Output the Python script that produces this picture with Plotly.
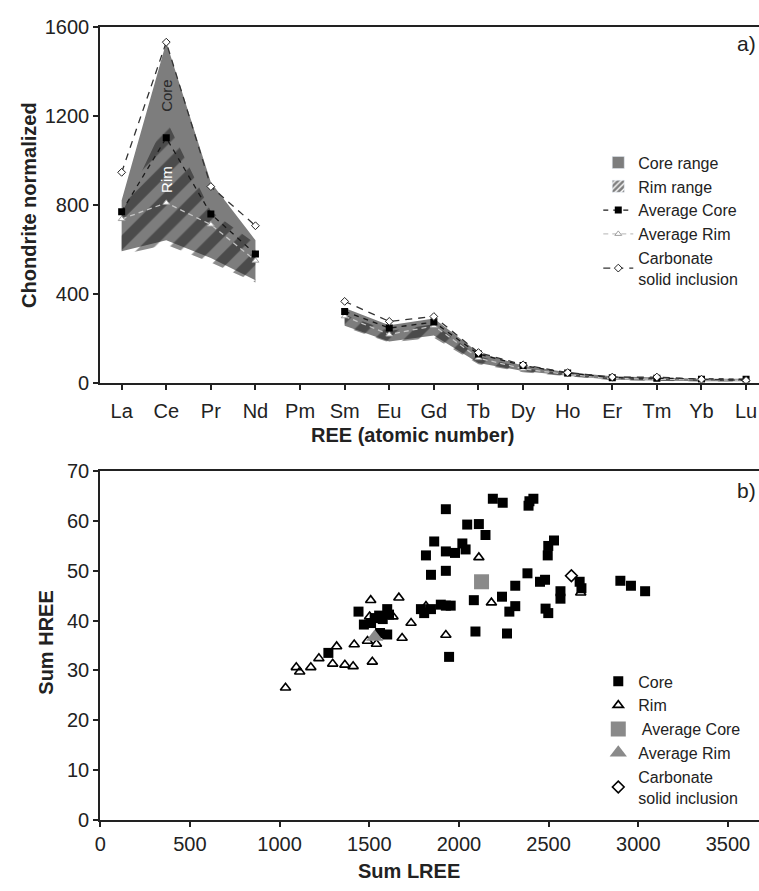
import plotly.graph_objects as go

W, H = 759, 891

# ---------------- Panel a) data ----------------
elements = ["La", "Ce", "Pr", "Nd", "Pm", "Sm", "Eu", "Gd", "Tb", "Dy", "Ho", "Er", "Tm", "Yb", "Lu"]
core_range_hi = [820, 1530, 900, 640, None, 335, 258, 288, 135, 76, 46, 28, 24, 17, 17]
core_range_lo = [590, 640, 560, 460, None, 255, 185, 212, 88, 52, 31, 13, 10, 6, 6]
rim_range_hi = [760, 1180, 770, 625, None, 305, 232, 262, 118, 66, 39, 21, 17, 12, 12]
rim_range_lo = [575, 620, 540, 450, None, 250, 180, 202, 82, 47, 28, 11, 8, 5, 5]
avg_core = [768, 1100, 758, 578, None, 320, 245, 272, 128, 77, 43, 22, 20, 15, 15]
avg_rim = [735, 808, 710, 548, None, 298, 216, 255, 110, 62, 36, 18, 15, 10, 10]
carbonate = [945, 1530, 881, 705, None, 365, 275, 297, 135, 80, 45, 25, 25, 15, 10]

# ---------------- Panel b) data ----------------
core_lree = [1272, 1440, 1470, 1510, 1530, 1555, 1575, 1600, 1610, 1560, 1600,
             1927, 2046, 2111, 2148, 2189, 2244, 2388, 2415, 2393, 1862, 1816, 1927,
             2019, 1978, 2037, 1844, 1927, 2498, 2530, 2495, 2382, 2314, 2452, 2480,
             2673, 2683, 2900, 2959, 3038, 2566, 2566, 2240, 2083, 2314, 2281, 2483,
             2498, 1788, 1806, 1844, 1899, 1954, 1927, 2092, 2268, 1945]
core_hree = [33.5, 41.8, 39.2, 39.5, 40.5, 41.0, 40.3, 42.3, 41.2, 37.5, 37.2,
             62.4, 59.3, 59.4, 57.2, 64.5, 63.7, 63.1, 64.5, 64.0, 55.9, 53.1, 53.9,
             55.5, 53.6, 54.3, 49.2, 50.0, 55.0, 56.1, 53.1, 49.5, 47.0, 47.8, 48.2,
             47.8, 46.5, 48.0, 47.0, 45.9, 45.9, 44.4, 44.8, 44.1, 42.9, 41.8, 42.4,
             41.5, 42.3, 41.5, 42.3, 43.2, 43.0, 43.0, 37.8, 37.4, 32.7]
rim_lree = [1033, 1093, 1112, 1174, 1219, 1296, 1364, 1410, 1416, 1517, 1508, 1502,
            1490, 1540, 1318, 2111, 1665, 1733, 1683, 1927, 1816, 2181, 2679, 1632]
rim_hree = [26.5, 30.6, 29.7, 30.6, 32.4, 31.3, 31.1, 30.8, 35.2, 31.7, 44.1, 40.8,
            35.9, 35.3, 34.8, 52.7, 44.6, 39.5, 36.5, 37.1, 42.9, 43.6, 45.6, 40.8]
avg_core_lree = [2126]
avg_core_hree = [47.8]
avg_rim_lree = [1530]
avg_rim_hree = [36.7]
carb_lree = [2627]
carb_hree = [49.0]


def px_x(p):
    return p / W


def px_y(p):
    return 1 - p / H


def band_polygon(hi, lo):
    """Build closed polygons (one per contiguous segment) from upper/lower bounds."""
    xs, ys = [], []
    seg = []
    for i in range(len(hi) + 1):
        if i < len(hi) and hi[i] is not None:
            seg.append(i)
        else:
            if seg:
                xs += seg + seg[::-1] + [seg[0], None]
                ys += [hi[j] for j in seg] + [lo[j] for j in seg[::-1]] + [hi[seg[0]], None]
            seg = []
    return xs, ys


idx = list(range(len(elements)))
fig = go.Figure()

CORE_GRAY = "#7d7d7d"
HATCH = dict(shape="/", fgcolor="#1a1a1a", bgcolor="rgba(0,0,0,0)", size=21, solidity=0.5)

cx, cy = band_polygon(core_range_hi, core_range_lo)
fig.add_trace(go.Scatter(x=cx, y=cy, fill="toself", mode="lines", line=dict(width=0),
                         fillcolor=CORE_GRAY, name="Core range", showlegend=False,
                         hoverinfo="skip", xaxis="x", yaxis="y"))
rx, ry = band_polygon(rim_range_hi, rim_range_lo)
fig.add_trace(go.Scatter(x=rx, y=ry, fill="toself", mode="lines", line=dict(width=0),
                         fillcolor="rgba(0,0,0,0)", fillpattern=HATCH,
                         name="Rim range", showlegend=False, hoverinfo="skip",
                         xaxis="x", yaxis="y"))
# legend swatches for the two ranges
fig.add_trace(go.Bar(x=[None], y=[None], name="Core range", marker=dict(color=CORE_GRAY),
                     legend="legend", legendrank=1, xaxis="x", yaxis="y"))
fig.add_trace(go.Bar(x=[None], y=[None], name="Rim range",
                     marker=dict(color="white",
                                 pattern=dict(shape="/", fgcolor="#000000", bgcolor="white",
                                              size=5, solidity=0.65)),
                     legend="legend", legendrank=2, xaxis="x", yaxis="y"))

fig.add_trace(go.Scatter(x=idx, y=avg_rim, mode="lines+markers", name="Average Rim",
                         line=dict(color="#c4c4c4", width=1.3, dash="5px,4px"),
                         marker=dict(symbol="triangle-up", size=6, color="white",
                                     line=dict(color="#a0a0a0", width=1)),
                         legend="legend", legendrank=4, xaxis="x", yaxis="y"))
fig.add_trace(go.Scatter(x=idx, y=avg_core, mode="lines+markers", name="Average Core",
                         line=dict(color="#1a1a1a", width=1.3, dash="5px,5px"),
                         marker=dict(symbol="square", size=7, color="black"),
                         legend="legend", legendrank=3, xaxis="x", yaxis="y"))
fig.add_trace(go.Scatter(x=idx, y=carbonate, mode="lines+markers",
                         name="Carbonate<br>solid inclusion",
                         line=dict(color="#333333", width=1.3, dash="7px,6px"),
                         marker=dict(symbol="diamond", size=6, color="white",
                                     line=dict(color="#222222", width=1)),
                         legend="legend", legendrank=5, xaxis="x", yaxis="y"))

fig.add_trace(go.Scatter(x=core_lree, y=core_hree, mode="markers", name="Core",
                         marker=dict(symbol="square", size=10, color="black"),
                         legend="legend2", xaxis="x2", yaxis="y2", legendrank=1))
fig.add_trace(go.Scatter(x=rim_lree, y=rim_hree, mode="markers", name="Rim",
                         marker=dict(symbol="triangle-up-open", size=9, color="black",
                                     line=dict(width=1.6)),
                         legend="legend2", xaxis="x2", yaxis="y2", legendrank=2))
fig.add_trace(go.Scatter(x=avg_core_lree, y=avg_core_hree, mode="markers", name=" Average Core",
                         marker=dict(symbol="square", size=15, color="#8a8a8a"),
                         legend="legend2", xaxis="x2", yaxis="y2", legendrank=3))
fig.add_trace(go.Scatter(x=avg_rim_lree, y=avg_rim_hree, mode="markers", name="Average Rim",
                         marker=dict(symbol="triangle-up", size=15, color="#8a8a8a"),
                         legend="legend2", xaxis="x2", yaxis="y2", legendrank=4))
fig.add_trace(go.Scatter(x=carb_lree, y=carb_hree, mode="markers",
                         name="Carbonate<br>solid inclusion",
                         marker=dict(symbol="diamond-open", size=9, color="black",
                                     line=dict(width=1.6)),
                         legend="legend2", xaxis="x2", yaxis="y2", legendrank=5))

axis_common = dict(showline=True, linecolor="#222222", linewidth=2, ticks="outside",
                   ticklen=5, tickwidth=1.5, tickcolor="#222222", showgrid=False,
                   zeroline=False, tickfont=dict(size=20, color="#222222"))

font_family = "Liberation Sans, Arial, sans-serif"
legend_common = dict(font=dict(size=16, color="#222222"), bgcolor="rgba(0,0,0,0)",
                     xanchor="left", yanchor="top", tracegroupgap=0, itemwidth=30,
                     traceorder="normal")

fig.update_layout(
    width=W, height=H,
    margin=dict(l=0, r=0, t=0, b=0),
    paper_bgcolor="white", plot_bgcolor="white",
    font=dict(family=font_family, color="#222222"),
    bargap=0,
    xaxis=dict(domain=[px_x(95), 1], anchor="y", range=[-0.48, 14.29],
               tickvals=idx, ticktext=elements, mirror=True, ticklabelstandoff=4,
               **axis_common),
    yaxis=dict(domain=[px_y(381), px_y(16)], anchor="x", range=[0, 1600],
               tickvals=[0, 400, 800, 1200, 1600], **axis_common),
    xaxis2=dict(domain=[px_x(95), 1], anchor="y2", range=[0, 3673],
                tickvals=[0, 500, 1000, 1500, 2000, 2500, 3000, 3500], mirror=True,
                **axis_common),
    yaxis2=dict(domain=[px_y(829), px_y(472)], anchor="x2", range=[0, 70],
                tickvals=[0, 10, 20, 30, 40, 50, 60, 70], **axis_common),
    legend=dict(x=px_x(597), y=px_y(138), **legend_common),
    legend2=dict(x=px_x(597), y=px_y(670), **legend_common),
    showlegend=True,
)

ann = [
    dict(text="<b>Chondrite normalized</b>", x=px_x(23), y=px_y(199), textangle=-90,
         font=dict(size=20)),
    dict(text="<b>REE (atomic number)</b>", x=px_x(410), y=px_y(435), font=dict(size=20)),
    dict(text="<b>Sum HREE</b>", x=px_x(40), y=px_y(648), textangle=-90, font=dict(size=20)),
    dict(text="<b>Sum LREE</b>", x=px_x(406), y=px_y(882), font=dict(size=20)),
    dict(text="a)", x=px_x(758), y=px_y(33), xanchor="right", font=dict(size=21)),
    dict(text="b)", x=px_x(758), y=px_y(492), xanchor="right", font=dict(size=21)),
]
for a in ann:
    a.setdefault("xanchor", "center")
    fig.add_annotation(xref="paper", yref="paper", yanchor="middle", showarrow=False,
                       **a)

# in-plot labels
fig.add_annotation(text="Core", x=1, y=1290, xref="x", yref="y", textangle=-90,
                   showarrow=False, font=dict(size=15, color="#2a2a2a"))
fig.add_annotation(text="Rim", x=1, y=912, xref="x", yref="y", textangle=-90,
                   showarrow=False, font=dict(size=15, color="white"))

fig.write_html("out.html", config={"displayModeBar": False},
               post_script="document.body.style.margin='0';document.body.style.overflow='hidden';")
